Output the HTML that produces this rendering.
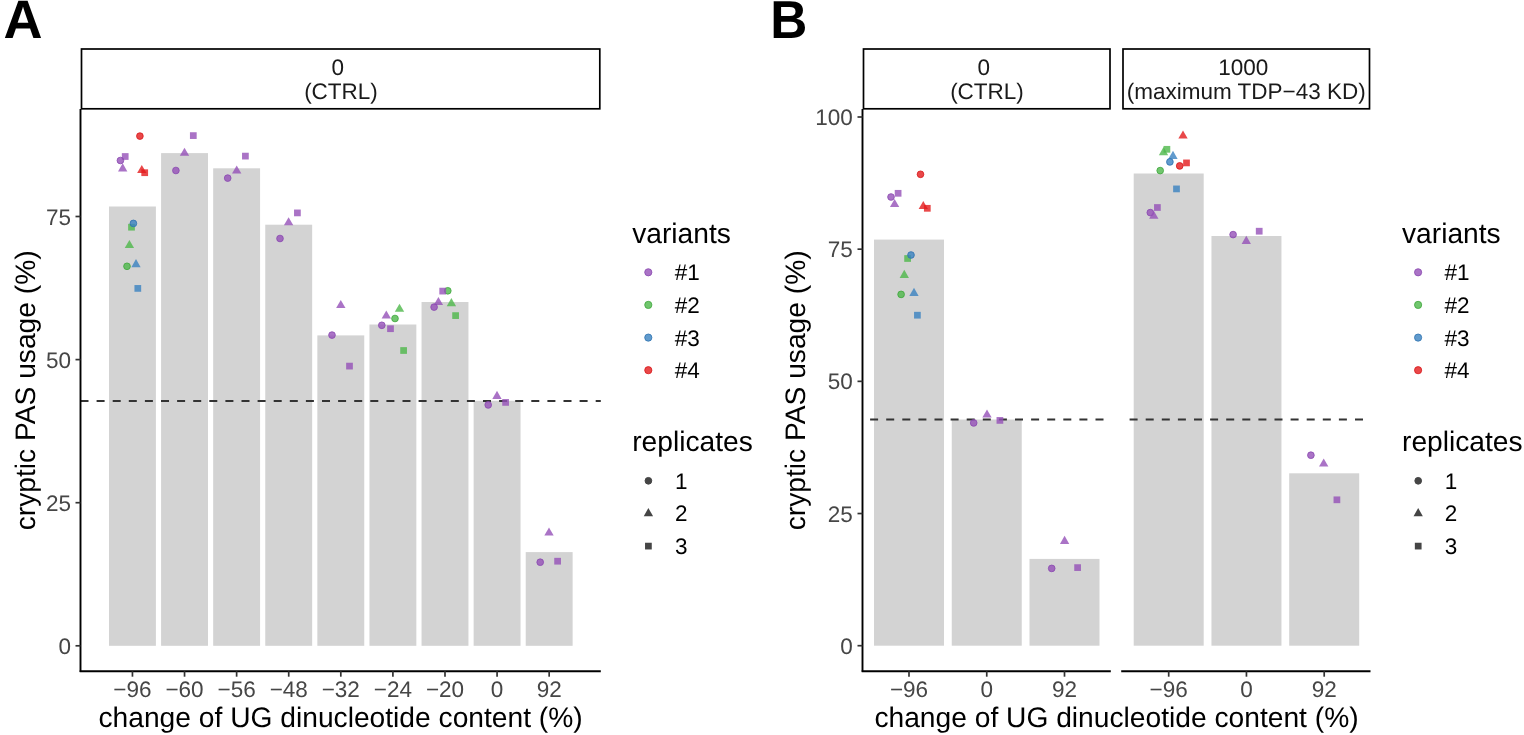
<!DOCTYPE html>
<html><head><meta charset="utf-8"><title>cryptic PAS usage</title>
<style>
html,body{margin:0;padding:0;background:#fff;}
body{width:1524px;height:735px;overflow:hidden;}
svg{display:block;font-family:"Liberation Sans", Arial, Helvetica, sans-serif;text-rendering:geometricPrecision;}
</style></head><body>
<svg width="1524" height="735" viewBox="0 0 1524 735">
<rect width="1524" height="735" fill="#fff"/>
<rect x="109.00" y="206.5" width="46.9" height="439.30" fill="#D3D3D3"/>
<rect x="161.09" y="153.1" width="46.9" height="492.70" fill="#D3D3D3"/>
<rect x="213.18" y="168.3" width="46.9" height="477.50" fill="#D3D3D3"/>
<rect x="265.27" y="224.7" width="46.9" height="421.10" fill="#D3D3D3"/>
<rect x="317.36" y="335.4" width="46.9" height="310.40" fill="#D3D3D3"/>
<rect x="369.45" y="324.5" width="46.9" height="321.30" fill="#D3D3D3"/>
<rect x="421.54" y="302" width="46.9" height="343.80" fill="#D3D3D3"/>
<rect x="473.63" y="400.8" width="46.9" height="245.00" fill="#D3D3D3"/>
<rect x="525.72" y="552.1" width="46.9" height="93.70" fill="#D3D3D3"/>
<line x1="80.5" y1="400.9" x2="600.8" y2="400.9" stroke="#333" stroke-width="2" stroke-dasharray="8 8.1" stroke-dashoffset="0"/>
<circle cx="139.9" cy="136.1" r="3.35" fill="#E41A1C" stroke="#D8181A" stroke-width="1.0" fill-opacity="0.8" stroke-opacity="0.8"/>
<rect x="121.84" y="153.14" width="6.73" height="6.73" fill="#9550B8" fill-opacity="0.8"/>
<circle cx="120.4" cy="160.5" r="3.35" fill="#9550B8" stroke="#8A48B0" stroke-width="1.0" fill-opacity="0.8" stroke-opacity="0.8"/>
<polygon points="122.70,163.31 127.37,171.39 118.03,171.39" fill="#9550B8" fill-opacity="0.8"/>
<polygon points="141.80,165.01 146.47,173.09 137.13,173.09" fill="#E41A1C" fill-opacity="0.8"/>
<rect x="141.34" y="169.34" width="6.73" height="6.73" fill="#E41A1C" fill-opacity="0.8"/>
<rect x="128.14" y="223.84" width="6.73" height="6.73" fill="#4DB84A" fill-opacity="0.8"/>
<circle cx="133.4" cy="223.4" r="3.35" fill="#3A82C0" stroke="#2D72B0" stroke-width="1.0" fill-opacity="0.8" stroke-opacity="0.8"/>
<polygon points="129.40,239.91 134.07,247.99 124.73,247.99" fill="#4DB84A" fill-opacity="0.8"/>
<circle cx="127.0" cy="266.3" r="3.35" fill="#4DB84A" stroke="#3FA63C" stroke-width="1.0" fill-opacity="0.8" stroke-opacity="0.8"/>
<polygon points="136.00,259.11 140.67,267.19 131.33,267.19" fill="#3A82C0" fill-opacity="0.8"/>
<rect x="134.44" y="285.04" width="6.73" height="6.73" fill="#3A82C0" fill-opacity="0.8"/>
<rect x="189.94" y="132.24" width="6.73" height="6.73" fill="#9550B8" fill-opacity="0.8"/>
<polygon points="184.50,147.71 189.17,155.79 179.83,155.79" fill="#9550B8" fill-opacity="0.8"/>
<circle cx="175.9" cy="170.5" r="3.35" fill="#9550B8" stroke="#8A48B0" stroke-width="1.0" fill-opacity="0.8" stroke-opacity="0.8"/>
<rect x="242.04" y="152.74" width="6.73" height="6.73" fill="#9550B8" fill-opacity="0.8"/>
<polygon points="236.70,165.51 241.37,173.59 232.03,173.59" fill="#9550B8" fill-opacity="0.8"/>
<circle cx="227.7" cy="178.1" r="3.35" fill="#9550B8" stroke="#8A48B0" stroke-width="1.0" fill-opacity="0.8" stroke-opacity="0.8"/>
<rect x="294.04" y="209.54" width="6.73" height="6.73" fill="#9550B8" fill-opacity="0.8"/>
<polygon points="288.60,217.21 293.27,225.29 283.93,225.29" fill="#9550B8" fill-opacity="0.8"/>
<circle cx="280.0" cy="238.5" r="3.35" fill="#9550B8" stroke="#8A48B0" stroke-width="1.0" fill-opacity="0.8" stroke-opacity="0.8"/>
<polygon points="340.80,299.91 345.47,307.99 336.13,307.99" fill="#9550B8" fill-opacity="0.8"/>
<circle cx="332.0" cy="335.1" r="3.35" fill="#9550B8" stroke="#8A48B0" stroke-width="1.0" fill-opacity="0.8" stroke-opacity="0.8"/>
<rect x="346.14" y="362.74" width="6.73" height="6.73" fill="#9550B8" fill-opacity="0.8"/>
<polygon points="386.30,310.41 390.97,318.49 381.63,318.49" fill="#9550B8" fill-opacity="0.8"/>
<polygon points="399.50,303.71 404.17,311.79 394.83,311.79" fill="#4DB84A" fill-opacity="0.8"/>
<circle cx="395.0" cy="318.5" r="3.35" fill="#4DB84A" stroke="#3FA63C" stroke-width="1.0" fill-opacity="0.8" stroke-opacity="0.8"/>
<circle cx="381.8" cy="325.3" r="3.35" fill="#9550B8" stroke="#8A48B0" stroke-width="1.0" fill-opacity="0.8" stroke-opacity="0.8"/>
<rect x="387.14" y="325.34" width="6.73" height="6.73" fill="#9550B8" fill-opacity="0.8"/>
<rect x="400.24" y="347.14" width="6.73" height="6.73" fill="#4DB84A" fill-opacity="0.8"/>
<circle cx="447.8" cy="290.8" r="3.35" fill="#4DB84A" stroke="#3FA63C" stroke-width="1.0" fill-opacity="0.8" stroke-opacity="0.8"/>
<rect x="439.34" y="287.74" width="6.73" height="6.73" fill="#9550B8" fill-opacity="0.8"/>
<polygon points="438.40,297.01 443.07,305.09 433.73,305.09" fill="#9550B8" fill-opacity="0.8"/>
<circle cx="434.1" cy="307.1" r="3.35" fill="#9550B8" stroke="#8A48B0" stroke-width="1.0" fill-opacity="0.8" stroke-opacity="0.8"/>
<polygon points="451.40,298.11 456.07,306.19 446.73,306.19" fill="#4DB84A" fill-opacity="0.8"/>
<rect x="452.24" y="312.24" width="6.73" height="6.73" fill="#4DB84A" fill-opacity="0.8"/>
<polygon points="497.00,390.81 501.67,398.89 492.33,398.89" fill="#9550B8" fill-opacity="0.8"/>
<circle cx="488.2" cy="404.9" r="3.35" fill="#9550B8" stroke="#8A48B0" stroke-width="1.0" fill-opacity="0.8" stroke-opacity="0.8"/>
<rect x="502.24" y="399.04" width="6.73" height="6.73" fill="#9550B8" fill-opacity="0.8"/>
<polygon points="549.00,527.41 553.67,535.49 544.33,535.49" fill="#9550B8" fill-opacity="0.8"/>
<circle cx="540.2" cy="562.2" r="3.35" fill="#9550B8" stroke="#8A48B0" stroke-width="1.0" fill-opacity="0.8" stroke-opacity="0.8"/>
<rect x="554.24" y="557.84" width="6.73" height="6.73" fill="#9550B8" fill-opacity="0.8"/>
<line x1="80.5" y1="109" x2="80.5" y2="672.0" stroke="#000" stroke-width="1.9"/>
<line x1="79.7" y1="671.2" x2="600.8" y2="671.2" stroke="#000" stroke-width="1.9"/>
<line x1="75.5" y1="645.80" x2="80.5" y2="645.80" stroke="#333333" stroke-width="1.7"/>
<text x="71.0" y="653.80" font-size="22.5" fill="#464646" text-anchor="end" >0</text>
<line x1="75.5" y1="502.70" x2="80.5" y2="502.70" stroke="#333333" stroke-width="1.7"/>
<text x="71.0" y="510.70" font-size="22.5" fill="#464646" text-anchor="end" >25</text>
<line x1="75.5" y1="359.60" x2="80.5" y2="359.60" stroke="#333333" stroke-width="1.7"/>
<text x="71.0" y="367.60" font-size="22.5" fill="#464646" text-anchor="end" >50</text>
<line x1="75.5" y1="216.50" x2="80.5" y2="216.50" stroke="#333333" stroke-width="1.7"/>
<text x="71.0" y="224.50" font-size="22.5" fill="#464646" text-anchor="end" >75</text>
<line x1="132.45" y1="671.2" x2="132.45" y2="676.7" stroke="#333333" stroke-width="1.7"/>
<text x="132.45" y="696.5" font-size="22.5" fill="#464646" text-anchor="middle" >−96</text>
<line x1="184.54" y1="671.2" x2="184.54" y2="676.7" stroke="#333333" stroke-width="1.7"/>
<text x="184.54" y="696.5" font-size="22.5" fill="#464646" text-anchor="middle" >−60</text>
<line x1="236.63" y1="671.2" x2="236.63" y2="676.7" stroke="#333333" stroke-width="1.7"/>
<text x="236.63" y="696.5" font-size="22.5" fill="#464646" text-anchor="middle" >−56</text>
<line x1="288.72" y1="671.2" x2="288.72" y2="676.7" stroke="#333333" stroke-width="1.7"/>
<text x="288.72" y="696.5" font-size="22.5" fill="#464646" text-anchor="middle" >−48</text>
<line x1="340.81" y1="671.2" x2="340.81" y2="676.7" stroke="#333333" stroke-width="1.7"/>
<text x="340.81" y="696.5" font-size="22.5" fill="#464646" text-anchor="middle" >−32</text>
<line x1="392.90" y1="671.2" x2="392.90" y2="676.7" stroke="#333333" stroke-width="1.7"/>
<text x="392.90" y="696.5" font-size="22.5" fill="#464646" text-anchor="middle" >−24</text>
<line x1="444.99" y1="671.2" x2="444.99" y2="676.7" stroke="#333333" stroke-width="1.7"/>
<text x="444.99" y="696.5" font-size="22.5" fill="#464646" text-anchor="middle" >−20</text>
<line x1="497.08" y1="671.2" x2="497.08" y2="676.7" stroke="#333333" stroke-width="1.7"/>
<text x="497.08" y="696.5" font-size="22.5" fill="#464646" text-anchor="middle" >0</text>
<line x1="549.17" y1="671.2" x2="549.17" y2="676.7" stroke="#333333" stroke-width="1.7"/>
<text x="549.17" y="696.5" font-size="22.5" fill="#464646" text-anchor="middle" >92</text>
<rect x="81.5" y="49" width="518.3" height="59.8" fill="#fff" stroke="#000" stroke-width="1.7"/>
<text x="337.8" y="74.5" font-size="22.5" fill="#1A1A1A" text-anchor="middle" >0</text>
<text x="341" y="99.4" font-size="22.5" fill="#1A1A1A" text-anchor="middle" >(CTRL)</text>
<text x="340.6" y="726.5" font-size="28.2" fill="#000" text-anchor="middle" >change of UG dinucleotide content (%)</text>
<text transform="translate(34.8,390.3) rotate(-90)" font-size="28.2" fill="#000" text-anchor="middle">cryptic PAS usage (%)</text>
<text x="3.6" y="37.7" font-size="54" font-weight="bold" fill="#000">A</text>
<rect x="874.00" y="239.6" width="70" height="406.10" fill="#D3D3D3"/>
<rect x="951.75" y="419.5" width="70" height="226.20" fill="#D3D3D3"/>
<rect x="1029.50" y="558.9" width="70" height="86.80" fill="#D3D3D3"/>
<line x1="862.5" y1="419.5" x2="1110.8" y2="419.5" stroke="#333" stroke-width="2" stroke-dasharray="8 8.1" stroke-dashoffset="8.5"/>
<rect x="1133.70" y="173.5" width="70" height="472.20" fill="#D3D3D3"/>
<rect x="1211.45" y="236.0" width="70" height="409.70" fill="#D3D3D3"/>
<rect x="1289.20" y="473.3" width="70" height="172.40" fill="#D3D3D3"/>
<line x1="1122.0" y1="419.5" x2="1370.5" y2="419.5" stroke="#333" stroke-width="2" stroke-dasharray="8 8.1" stroke-dashoffset="8.5"/>
<circle cx="920.5" cy="174.3" r="3.35" fill="#E41A1C" stroke="#D8181A" stroke-width="1.0" fill-opacity="0.8" stroke-opacity="0.8"/>
<rect x="894.74" y="189.94" width="6.73" height="6.73" fill="#9550B8" fill-opacity="0.8"/>
<circle cx="891.0" cy="197.0" r="3.35" fill="#9550B8" stroke="#8A48B0" stroke-width="1.0" fill-opacity="0.8" stroke-opacity="0.8"/>
<polygon points="894.60,199.01 899.27,207.09 889.93,207.09" fill="#9550B8" fill-opacity="0.8"/>
<polygon points="923.30,201.01 927.97,209.09 918.63,209.09" fill="#E41A1C" fill-opacity="0.8"/>
<rect x="923.94" y="204.94" width="6.73" height="6.73" fill="#E41A1C" fill-opacity="0.8"/>
<rect x="904.24" y="255.14" width="6.73" height="6.73" fill="#4DB84A" fill-opacity="0.8"/>
<circle cx="911.0" cy="255.0" r="3.35" fill="#3A82C0" stroke="#2D72B0" stroke-width="1.0" fill-opacity="0.8" stroke-opacity="0.8"/>
<polygon points="904.30,269.81 908.97,277.89 899.63,277.89" fill="#4DB84A" fill-opacity="0.8"/>
<circle cx="901.1" cy="294.4" r="3.35" fill="#4DB84A" stroke="#3FA63C" stroke-width="1.0" fill-opacity="0.8" stroke-opacity="0.8"/>
<polygon points="914.00,287.81 918.67,295.89 909.33,295.89" fill="#3A82C0" fill-opacity="0.8"/>
<rect x="914.04" y="311.84" width="6.73" height="6.73" fill="#3A82C0" fill-opacity="0.8"/>
<polygon points="987.00,409.41 991.67,417.49 982.33,417.49" fill="#9550B8" fill-opacity="0.8"/>
<circle cx="973.7" cy="422.9" r="3.35" fill="#9550B8" stroke="#8A48B0" stroke-width="1.0" fill-opacity="0.8" stroke-opacity="0.8"/>
<rect x="996.54" y="417.04" width="6.73" height="6.73" fill="#9550B8" fill-opacity="0.8"/>
<polygon points="1064.60,535.81 1069.27,543.89 1059.93,543.89" fill="#9550B8" fill-opacity="0.8"/>
<circle cx="1051.7" cy="568.4" r="3.35" fill="#9550B8" stroke="#8A48B0" stroke-width="1.0" fill-opacity="0.8" stroke-opacity="0.8"/>
<rect x="1074.24" y="564.24" width="6.73" height="6.73" fill="#9550B8" fill-opacity="0.8"/>
<polygon points="1183.00,130.41 1187.67,138.49 1178.33,138.49" fill="#E41A1C" fill-opacity="0.8"/>
<rect x="1163.54" y="145.94" width="6.73" height="6.73" fill="#4DB84A" fill-opacity="0.8"/>
<polygon points="1163.50,147.11 1168.17,155.19 1158.83,155.19" fill="#4DB84A" fill-opacity="0.8"/>
<polygon points="1173.00,150.81 1177.67,158.89 1168.33,158.89" fill="#3A82C0" fill-opacity="0.8"/>
<circle cx="1169.9" cy="161.9" r="3.35" fill="#3A82C0" stroke="#2D72B0" stroke-width="1.0" fill-opacity="0.8" stroke-opacity="0.8"/>
<rect x="1183.14" y="159.54" width="6.73" height="6.73" fill="#E41A1C" fill-opacity="0.8"/>
<circle cx="1179.7" cy="165.9" r="3.35" fill="#E41A1C" stroke="#D8181A" stroke-width="1.0" fill-opacity="0.8" stroke-opacity="0.8"/>
<circle cx="1160.2" cy="170.6" r="3.35" fill="#4DB84A" stroke="#3FA63C" stroke-width="1.0" fill-opacity="0.8" stroke-opacity="0.8"/>
<rect x="1173.14" y="185.54" width="6.73" height="6.73" fill="#3A82C0" fill-opacity="0.8"/>
<rect x="1154.04" y="204.14" width="6.73" height="6.73" fill="#9550B8" fill-opacity="0.8"/>
<circle cx="1150.3" cy="212.6" r="3.35" fill="#9550B8" stroke="#8A48B0" stroke-width="1.0" fill-opacity="0.8" stroke-opacity="0.8"/>
<polygon points="1153.80,210.71 1158.47,218.79 1149.13,218.79" fill="#9550B8" fill-opacity="0.8"/>
<circle cx="1233.1" cy="234.6" r="3.35" fill="#9550B8" stroke="#8A48B0" stroke-width="1.0" fill-opacity="0.8" stroke-opacity="0.8"/>
<polygon points="1246.30,235.81 1250.97,243.89 1241.63,243.89" fill="#9550B8" fill-opacity="0.8"/>
<rect x="1255.84" y="227.84" width="6.73" height="6.73" fill="#9550B8" fill-opacity="0.8"/>
<circle cx="1310.9" cy="455.2" r="3.35" fill="#9550B8" stroke="#8A48B0" stroke-width="1.0" fill-opacity="0.8" stroke-opacity="0.8"/>
<polygon points="1323.70,458.51 1328.37,466.59 1319.03,466.59" fill="#9550B8" fill-opacity="0.8"/>
<rect x="1333.54" y="496.44" width="6.73" height="6.73" fill="#9550B8" fill-opacity="0.8"/>
<line x1="862.5" y1="109" x2="862.5" y2="671.8" stroke="#000" stroke-width="1.9"/>
<line x1="861.7" y1="671.2" x2="1110.8" y2="671.2" stroke="#000" stroke-width="1.9"/>
<line x1="909.00" y1="671.2" x2="909.00" y2="676.7" stroke="#333333" stroke-width="1.7"/>
<text x="909.00" y="696.5" font-size="22.5" fill="#464646" text-anchor="middle" >−96</text>
<line x1="986.75" y1="671.2" x2="986.75" y2="676.7" stroke="#333333" stroke-width="1.7"/>
<text x="986.75" y="696.5" font-size="22.5" fill="#464646" text-anchor="middle" >0</text>
<line x1="1064.50" y1="671.2" x2="1064.50" y2="676.7" stroke="#333333" stroke-width="1.7"/>
<text x="1064.50" y="696.5" font-size="22.5" fill="#464646" text-anchor="middle" >92</text>
<line x1="1121.2" y1="671.2" x2="1370.5" y2="671.2" stroke="#000" stroke-width="1.9"/>
<line x1="1168.70" y1="671.2" x2="1168.70" y2="676.7" stroke="#333333" stroke-width="1.7"/>
<text x="1168.70" y="696.5" font-size="22.5" fill="#464646" text-anchor="middle" >−96</text>
<line x1="1246.45" y1="671.2" x2="1246.45" y2="676.7" stroke="#333333" stroke-width="1.7"/>
<text x="1246.45" y="696.5" font-size="22.5" fill="#464646" text-anchor="middle" >0</text>
<line x1="1324.20" y1="671.2" x2="1324.20" y2="676.7" stroke="#333333" stroke-width="1.7"/>
<text x="1324.20" y="696.5" font-size="22.5" fill="#464646" text-anchor="middle" >92</text>
<line x1="857.5" y1="645.70" x2="862.5" y2="645.70" stroke="#333333" stroke-width="1.7"/>
<text x="852.8" y="653.70" font-size="22.5" fill="#464646" text-anchor="end" >0</text>
<line x1="857.5" y1="513.53" x2="862.5" y2="513.53" stroke="#333333" stroke-width="1.7"/>
<text x="852.8" y="521.53" font-size="22.5" fill="#464646" text-anchor="end" >25</text>
<line x1="857.5" y1="381.35" x2="862.5" y2="381.35" stroke="#333333" stroke-width="1.7"/>
<text x="852.8" y="389.35" font-size="22.5" fill="#464646" text-anchor="end" >50</text>
<line x1="857.5" y1="249.18" x2="862.5" y2="249.18" stroke="#333333" stroke-width="1.7"/>
<text x="852.8" y="257.18" font-size="22.5" fill="#464646" text-anchor="end" >75</text>
<line x1="857.5" y1="117.00" x2="862.5" y2="117.00" stroke="#333333" stroke-width="1.7"/>
<text x="852.8" y="125.00" font-size="22.5" fill="#464646" text-anchor="end" >100</text>
<rect x="863.5" y="49" width="246.5" height="59.8" fill="#fff" stroke="#000" stroke-width="1.7"/>
<text x="983.8" y="74.5" font-size="22.5" fill="#1A1A1A" text-anchor="middle" >0</text>
<text x="987" y="99.4" font-size="22.5" fill="#1A1A1A" text-anchor="middle" >(CTRL)</text>
<rect x="1123" y="49" width="246.5" height="59.8" fill="#fff" stroke="#000" stroke-width="1.7"/>
<text x="1243.2" y="74.5" font-size="22.5" fill="#1A1A1A" text-anchor="middle" >1000</text>
<text x="1246.3" y="99.4" font-size="22.5" fill="#1A1A1A" text-anchor="middle" >(maximum TDP−43 KD)</text>
<text x="1116.5" y="726.5" font-size="28.2" fill="#000" text-anchor="middle" >change of UG dinucleotide content (%)</text>
<text transform="translate(804.5,390.3) rotate(-90)" font-size="28.2" fill="#000" text-anchor="middle">cryptic PAS usage (%)</text>
<text x="770.2" y="37.7" font-size="53.5" font-weight="bold" fill="#000" transform="translate(770.2,0) scale(0.96,1) translate(-770.2,0)">B</text>
<text x="632.2" y="242.8" font-size="28.2" fill="#000" text-anchor="start" >variants</text>
<circle cx="648.3" cy="272.3" r="3.60" fill="#9550B8" stroke="#8A48B0" stroke-width="1.0" fill-opacity="0.8" stroke-opacity="0.8"/>
<text x="674.8" y="280.30" font-size="22.5" fill="#000" text-anchor="start" >#1</text>
<circle cx="648.3" cy="304.9" r="3.60" fill="#4DB84A" stroke="#3FA63C" stroke-width="1.0" fill-opacity="0.8" stroke-opacity="0.8"/>
<text x="674.8" y="312.95" font-size="22.5" fill="#000" text-anchor="start" >#2</text>
<circle cx="648.3" cy="337.6" r="3.60" fill="#3A82C0" stroke="#2D72B0" stroke-width="1.0" fill-opacity="0.8" stroke-opacity="0.8"/>
<text x="674.8" y="345.60" font-size="22.5" fill="#000" text-anchor="start" >#3</text>
<circle cx="648.3" cy="370.2" r="3.60" fill="#E41A1C" stroke="#D8181A" stroke-width="1.0" fill-opacity="0.8" stroke-opacity="0.8"/>
<text x="674.8" y="378.25" font-size="22.5" fill="#000" text-anchor="start" >#4</text>
<text x="632.2" y="450.6" font-size="28.2" fill="#000" text-anchor="start" >replicates</text>
<circle cx="648.4" cy="480.8" r="3.35" fill="#454545" stroke="#454545" stroke-width="1.0"/>
<text x="675" y="488.80" font-size="22.5" fill="#000" text-anchor="start" >1</text>
<polygon points="648.40,508.06 653.07,516.14 643.73,516.14" fill="#454545"/>
<text x="675" y="521.45" font-size="22.5" fill="#000" text-anchor="start" >2</text>
<rect x="645.04" y="542.74" width="6.73" height="6.73" fill="#454545"/>
<text x="675" y="554.10" font-size="22.5" fill="#000" text-anchor="start" >3</text>
<text x="1402.0" y="242.8" font-size="28.2" fill="#000" text-anchor="start" >variants</text>
<circle cx="1418.1" cy="272.3" r="3.60" fill="#9550B8" stroke="#8A48B0" stroke-width="1.0" fill-opacity="0.8" stroke-opacity="0.8"/>
<text x="1444.6" y="280.30" font-size="22.5" fill="#000" text-anchor="start" >#1</text>
<circle cx="1418.1" cy="304.9" r="3.60" fill="#4DB84A" stroke="#3FA63C" stroke-width="1.0" fill-opacity="0.8" stroke-opacity="0.8"/>
<text x="1444.6" y="312.95" font-size="22.5" fill="#000" text-anchor="start" >#2</text>
<circle cx="1418.1" cy="337.6" r="3.60" fill="#3A82C0" stroke="#2D72B0" stroke-width="1.0" fill-opacity="0.8" stroke-opacity="0.8"/>
<text x="1444.6" y="345.60" font-size="22.5" fill="#000" text-anchor="start" >#3</text>
<circle cx="1418.1" cy="370.2" r="3.60" fill="#E41A1C" stroke="#D8181A" stroke-width="1.0" fill-opacity="0.8" stroke-opacity="0.8"/>
<text x="1444.6" y="378.25" font-size="22.5" fill="#000" text-anchor="start" >#4</text>
<text x="1402.0" y="450.6" font-size="28.2" fill="#000" text-anchor="start" >replicates</text>
<circle cx="1418.2" cy="480.8" r="3.35" fill="#454545" stroke="#454545" stroke-width="1.0"/>
<text x="1444.8" y="488.80" font-size="22.5" fill="#000" text-anchor="start" >1</text>
<polygon points="1418.20,508.06 1422.87,516.14 1413.53,516.14" fill="#454545"/>
<text x="1444.8" y="521.45" font-size="22.5" fill="#000" text-anchor="start" >2</text>
<rect x="1414.84" y="542.74" width="6.73" height="6.73" fill="#454545"/>
<text x="1444.8" y="554.10" font-size="22.5" fill="#000" text-anchor="start" >3</text>
</svg>
</body></html>
